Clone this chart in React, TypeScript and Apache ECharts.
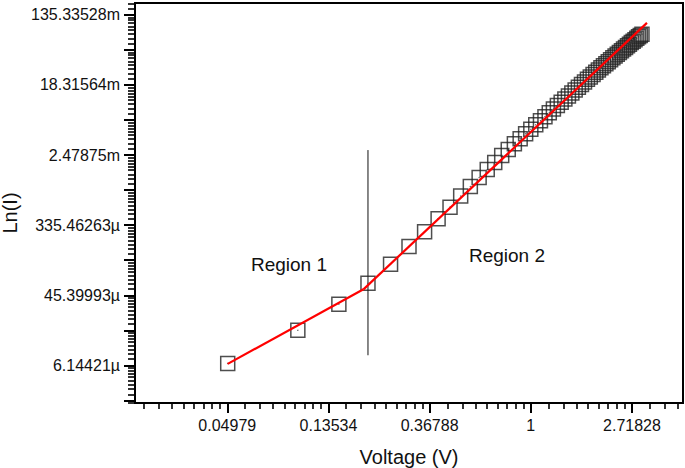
import React, { useEffect, useRef } from 'react';
import * as echarts from 'echarts';

// Measured I–V data (V in volts, I in amperes)
const voltage = [
  0.05, 0.10, 0.15, 0.20, 0.25, 0.30, 0.35, 0.40, 0.45, 0.50,
  0.55, 0.60, 0.65, 0.70, 0.75, 0.80, 0.85, 0.90, 0.95, 1.00,
  1.05, 1.10, 1.15, 1.20, 1.25, 1.30, 1.35, 1.40, 1.45, 1.50,
  1.55, 1.60, 1.65, 1.70, 1.75, 1.80, 1.85, 1.90, 1.95, 2.00,
  2.05, 2.10, 2.15, 2.20, 2.25, 2.30, 2.35, 2.40, 2.45, 2.50,
  2.55, 2.60, 2.65, 2.70, 2.75, 2.80, 2.85, 2.90, 2.95, 3.00,
];
const current = [
  6.50e-6, 1.67e-5, 3.51e-5, 6.40e-5, 1.10e-4, 1.82e-4, 2.79e-4, 4.04e-4, 5.61e-4, 7.69e-4,
  1.008e-3, 1.303e-3, 1.639e-3, 2.011e-3, 2.444e-3, 2.900e-3, 3.414e-3, 3.962e-3, 4.544e-3, 5.181e-3,
  5.875e-3, 6.625e-3, 7.425e-3, 8.28e-3, 9.225e-3, 1.017e-2, 1.121e-2, 1.228e-2, 1.342e-2, 1.457e-2,
  1.583e-2, 1.715e-2, 1.852e-2, 1.997e-2, 2.150e-2, 2.303e-2, 2.466e-2, 2.634e-2, 2.813e-2, 2.986e-2,
  3.171e-2, 3.367e-2, 3.565e-2, 3.763e-2, 3.972e-2, 4.184e-2, 4.404e-2, 4.639e-2, 4.867e-2, 5.111e-2,
  5.346e-2, 5.598e-2, 5.861e-2, 6.137e-2, 6.401e-2, 6.681e-2, 6.956e-2, 7.240e-2, 7.513e-2, 7.780e-2,
];

// Linear fits (in ln–ln space), endpoints
const fit1V = [0.05, 0.1913];
const fit1I = [6.41e-6, 5.38e-5];
const fit2V = [0.1913, 3.152];
const fit2I = [5.38e-5, 0.1077];

// Region divider
const dividerV = [0.2, 0.2];
const dividerI = [8.2e-6, 2.86e-3];

// Axis ranges (real units) and ticks (ln units)
const xRange = [0.02, 4.5];
const yRange = [2.1e-6, 0.19];
const xMajorLn = [-3, -2, -1, 0, 1];
const xTickLabels = ['0.04979', '0.13534', '0.36788', '1', '2.71828'];
const yMajorLn = [-13, -12, -11, -10, -9, -8, -7, -6, -5, -4, -3, -2];
const yLabelLn = [-12, -10, -8, -6, -4, -2];
const yTickLabels = ['6.14421µ', '45.39993µ', '335.46263µ', '2.47875m', '18.31564m', '135.33528m'];

const FONT = '"Liberation Sans", Arial, Helvetica, sans-serif';

function minorTicks(lo: number, hi: number): number[] {
  const out: number[] = [];
  for (let n = Math.floor(lo) - 1; n <= Math.ceil(hi); n++) {
    for (let k = 1; k <= 8; k++) {
      const v = n + Math.log(1 + (k * (Math.E - 1)) / 9);
      if (v > lo && v < hi) out.push(v);
    }
  }
  return out;
}

function pairs(xs: number[], ys: number[]): number[][] {
  return xs.map((x, i) => [Math.log(x), Math.log(ys[i])]);
}

export default function App() {
  const ref = useRef<HTMLDivElement>(null);

  useEffect(() => {
    if (!ref.current) return;
    const chart = echarts.init(ref.current, undefined, { renderer: 'svg' });
    const xMin = Math.log(xRange[0]);
    const xMax = Math.log(xRange[1]);
    const yMin = Math.log(yRange[0]);
    const yMax = Math.log(yRange[1]);

    const labelFor = (vals: number[], labels: string[]) => (v: number) => {
      const i = vals.findIndex((m) => Math.abs(m - v) < 1e-6);
      return i >= 0 ? labels[i] : '';
    };

    const baseAxis = {
      type: 'value' as const,
      splitLine: { show: false },
    };

    chart.setOption({
      animation: false,
      backgroundColor: '#ffffff',
      grid: {
        left: 135,
        right: 2,
        top: 3,
        bottom: 65,
        show: true,
        borderColor: '#000',
        borderWidth: 2,
        containLabel: false,
        outerBoundsMode: 'none',
      },
      xAxis: [
        {
          ...baseAxis,
          position: 'bottom',
          min: xMin,
          max: xMax,
          axisLine: { show: true, onZero: false, lineStyle: { color: '#000', width: 2 } },
          axisTick: { show: true, customValues: xMajorLn, length: 10, lineStyle: { color: '#000', width: 2 } },
          axisLabel: {
            show: true,
            customValues: xMajorLn,
            formatter: labelFor(xMajorLn, xTickLabels),
            margin: 14,
            color: '#111',
            fontSize: 16,
            fontFamily: FONT,
          },
          name: 'Voltage (V)',
          nameLocation: 'middle',
          nameGap: 44,
          nameTextStyle: { color: '#111', fontSize: 20, fontFamily: FONT },
        },
        {
          ...baseAxis,
          position: 'bottom',
          min: xMin,
          max: xMax,
          axisLine: { show: false, onZero: false },
          axisTick: { show: true, customValues: minorTicks(xMin, xMax), length: 6, lineStyle: { color: '#000', width: 1.6 } },
          axisLabel: { show: false },
        },
      ],
      yAxis: [
        {
          ...baseAxis,
          position: 'left',
          min: yMin,
          max: yMax,
          axisLine: { show: true, onZero: false, lineStyle: { color: '#000', width: 2 } },
          axisTick: { show: true, customValues: yMajorLn, length: 11, lineStyle: { color: '#000', width: 2 } },
          axisLabel: {
            show: true,
            customValues: yLabelLn,
            formatter: labelFor(yLabelLn, yTickLabels),
            margin: 15,
            color: '#111',
            fontSize: 16,
            fontFamily: FONT,
          },
        },
        {
          ...baseAxis,
          position: 'left',
          min: yMin,
          max: yMax,
          axisLine: { show: false, onZero: false },
          axisTick: { show: true, customValues: minorTicks(yMin, yMax), length: 7, lineStyle: { color: '#000', width: 1.6 } },
          axisLabel: { show: false },
        },
      ],
      series: [
        {
          type: 'line',
          name: 'divider',
          data: pairs(dividerV, dividerI),
          showSymbol: false,
          symbol: 'none',
          lineStyle: { color: '#111', width: 1 },
          z: 2,
          silent: true,
        },
        {
          type: 'scatter',
          name: 'I-V',
          data: pairs(voltage, current),
          symbol: 'rect',
          symbolSize: 14,
          itemStyle: { color: 'rgba(0,0,0,0)', borderColor: '#222', borderWidth: 1.5 },
          z: 3,
        },
        {
          type: 'scatter',
          name: 'centres',
          data: pairs(voltage, current),
          symbol: 'circle',
          symbolSize: 1.3,
          itemStyle: { color: '#333' },
          z: 3,
          silent: true,
        },
        {
          type: 'line',
          name: 'Region 1 fit',
          data: pairs(fit1V, fit1I),
          showSymbol: false,
          symbol: 'none',
          lineStyle: { color: '#ff0000', width: 2.2 },
          z: 4,
        },
        {
          type: 'line',
          name: 'Region 2 fit',
          data: pairs(fit2V, fit2I),
          showSymbol: false,
          symbol: 'none',
          lineStyle: { color: '#ff0000', width: 2.2 },
          z: 4,
        },
      ],
      graphic: [
        {
          type: 'text',
          x: 289,
          y: 264,
          style: { text: 'Region 1', fill: '#111', font: `19px ${FONT}`, align: 'center', verticalAlign: 'middle' },
        },
        {
          type: 'text',
          x: 507,
          y: 255,
          style: { text: 'Region 2', fill: '#111', font: `19px ${FONT}`, align: 'center', verticalAlign: 'middle' },
        },
        {
          type: 'text',
          x: 10,
          y: 213,
          rotation: Math.PI / 2,
          style: { text: 'Ln(I)', fill: '#111', font: `20px ${FONT}`, align: 'center', verticalAlign: 'middle' },
        },
      ],
    });

    return () => chart.dispose();
  }, []);

  return (
    <div
      ref={ref}
      style={{ position: 'fixed', left: 0, top: 0, width: 685, height: 468, background: '#fff' }}
    />
  );
}
